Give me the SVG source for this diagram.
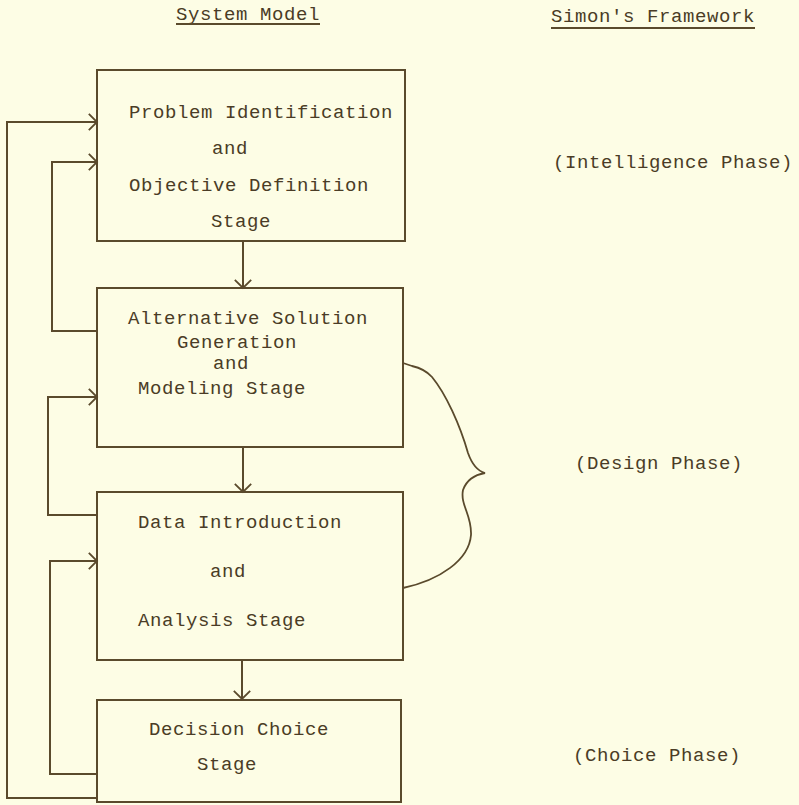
<svg xmlns="http://www.w3.org/2000/svg" width="799" height="805" viewBox="0 0 799 805">
<defs>
<style>
.bg{fill:#fdfde5}
.box{fill:none;stroke:#5a4a2c;stroke-width:2}
.ln{fill:none;stroke:#5a4a2c;stroke-width:2}
.br{fill:none;stroke:#5a4a2c;stroke-width:1.8}
text{font-family:"Liberation Mono","DejaVu Sans Mono",monospace;font-size:19px;letter-spacing:0.6px;fill:#4a3c26}
</style>
<marker id="ah" markerUnits="userSpaceOnUse" markerWidth="20" markerHeight="20" viewBox="-11 -11 13 22" refX="0" refY="0" orient="auto">
<path d="M-9,-9 L0,0 L-9,9" fill="none" stroke="#5a4a2c" stroke-width="2"/>
</marker>
</defs>
<rect class="bg" x="0" y="0" width="799" height="805"/>
<g id="headers">
<text x="176" y="20">System Model</text>
<line class="ln" x1="176" y1="24" x2="320" y2="24" stroke-width="1.5"/>
<text x="551" y="22">Simon's Framework</text>
<line class="ln" x1="551" y1="28" x2="755" y2="28" stroke-width="1.5"/>
</g>
<g id="node1">
<rect class="box" x="97" y="70" width="308" height="171"/>
<text x="129" y="118">Problem Identification</text>
<text x="212" y="154">and</text>
<text x="129" y="191">Objective Definition</text>
<text x="211" y="227">Stage</text>
</g>
<g id="node2">
<rect class="box" x="97" y="288" width="306" height="159"/>
<text x="128" y="324">Alternative Solution</text>
<text x="177" y="348">Generation</text>
<text x="213" y="369">and</text>
<text x="138" y="394">Modeling Stage</text>
</g>
<g id="node3">
<rect class="box" x="97" y="492" width="306" height="168"/>
<text x="138" y="528">Data Introduction</text>
<text x="210" y="577">and</text>
<text x="138" y="626">Analysis Stage</text>
</g>
<g id="node4">
<rect class="box" x="97" y="700" width="304" height="102"/>
<text x="149" y="735">Decision Choice</text>
<text x="197" y="770">Stage</text>
</g>
<g id="phases">
<text x="553" y="168">(Intelligence Phase)</text>
<text x="575" y="469">(Design Phase)</text>
<text x="573" y="761">(Choice Phase)</text>
<path class="br" d="M403,363 L412,366 Q425,369 432,377 C446,394 460,425 468,453 Q474,470 485,473 Q468,476 463,490 C460,505 472,515 471,535 C469,560 440,580 403,588"/>
</g>
<g id="connectors">
<path class="ln" d="M243,241 V288" marker-end="url(#ah)"/>
<path class="ln" d="M243,447 V492" marker-end="url(#ah)"/>
<path class="ln" d="M242,660 V699" marker-end="url(#ah)"/>
<path class="ln" d="M97,798 H7 V122 H97" marker-end="url(#ah)"/>
<path class="ln" d="M97,331 H52 V162 H97" marker-end="url(#ah)"/>
<path class="ln" d="M97,515 H48 V397 H97" marker-end="url(#ah)"/>
<path class="ln" d="M97,774 H50 V561 H97" marker-end="url(#ah)"/>
</g>
</svg>
